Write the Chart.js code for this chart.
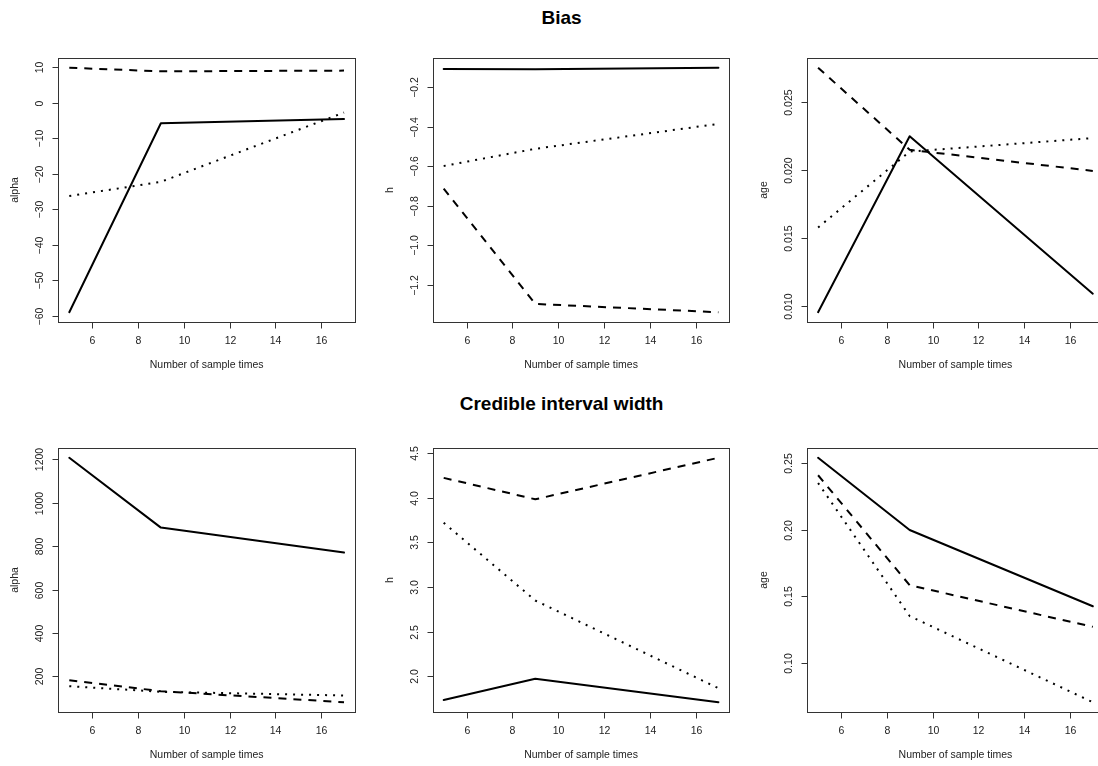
<!DOCTYPE html>
<html><head><meta charset="utf-8">
<script src="https://cdn.jsdelivr.net/npm/chart.js@4/dist/chart.umd.min.js"></script>
<style>
html,body{margin:0;padding:0;background:#fff;overflow:hidden}
#wrap{position:relative;width:1098px;height:766px;overflow:hidden;background:#fff}
#wrap canvas{position:absolute;left:0;top:0}
.title{position:absolute;width:600px;left:261.6px;text-align:center;font:bold 19px "Liberation Sans",Arial,Helvetica,sans-serif;line-height:19px;color:#000;white-space:nowrap}
</style></head><body><div id="wrap">
<div class="title" style="top:8px">Bias</div>
<div class="title" style="top:394px">Credible interval width</div>
</div>
<script>
// ---- data ----
const sampleTimes = [5, 9, 17];
const xTickLabels = ['6', '8', '10', '12', '14', '16'];
const xTitle = 'Number of sample times';
const panelTitles = ['Bias', 'Credible interval width'];

// Bias
const biasAlphaSolid  = [-59.0, -5.8, -4.6];
const biasAlphaDashed = [9.8, 8.8, 9.0];
const biasAlphaDotted = [-26.3, -22.3, -2.8];
const biasHSolid  = [-0.107, -0.108, -0.101];
const biasHDashed = [-0.713, -1.296, -1.338];
const biasHDotted = [-0.598, -0.511, -0.385];
const biasAgeSolid  = [0.00956, 0.0225, 0.01092];
const biasAgeDashed = [0.02753, 0.0215, 0.01995];
const biasAgeDotted = [0.01579, 0.02137, 0.02236];
// Credible interval width
const ciAlphaSolid  = [1207.7, 885.6, 770.6];
const ciAlphaDashed = [181.6, 131, 80];
const ciAlphaDotted = [154, 128, 111];
const ciHSolid  = [1.733, 1.970, 1.708];
const ciHDashed = [4.222, 3.982, 4.447];
const ciHDotted = [3.719, 2.848, 1.865];
const ciAgeSolid  = [0.2538, 0.1997, 0.1425];
const ciAgeDashed = [0.2407, 0.1583, 0.1271];
const ciAgeDotted = [0.2349, 0.1352, 0.0706];

// y tick labels
const yTicksBiasAlpha = ['\u221260', '\u221250', '\u221240', '\u221230', '\u221220', '\u221210', '0', '10'];
const yTicksBiasH = ['\u22121.2', '\u22121.0', '\u22120.8', '\u22120.6', '\u22120.4', '\u22120.2'];
const yTicksBiasAge = ['0.010', '0.015', '0.020', '0.025'];
const yTicksCiAlpha = ['200', '400', '600', '800', '1000', '1200'];
const yTicksCiH = ['2.0', '2.5', '3.0', '3.5', '4.0', '4.5'];
const yTicksCiAge = ['0.10', '0.15', '0.20', '0.25'];

const yTitles = ['alpha', 'h', 'age'];

// ---- layout ----
const CW = 1124, CH = 766;
const colLeft = [58.3, 432.7, 807.1];
const boxW = 296.7;
const rowTop = [58, 448];
const boxH = 264;
const FONT = '"Liberation Sans", Arial, Helvetica, sans-serif';

const panels = [
  {row:0, col:0, s:[biasAlphaSolid, biasAlphaDashed, biasAlphaDotted], yt:yTicksBiasAlpha, title:yTitles[0]},
  {row:0, col:1, s:[biasHSolid, biasHDashed, biasHDotted], yt:yTicksBiasH, title:yTitles[1]},
  {row:0, col:2, s:[biasAgeSolid, biasAgeDashed, biasAgeDotted], yt:yTicksBiasAge, title:yTitles[2]},
  {row:1, col:0, s:[ciAlphaSolid, ciAlphaDashed, ciAlphaDotted], yt:yTicksCiAlpha, title:yTitles[0]},
  {row:1, col:1, s:[ciHSolid, ciHDashed, ciHDotted], yt:yTicksCiH, title:yTitles[1]},
  {row:1, col:2, s:[ciAgeSolid, ciAgeDashed, ciAgeDotted], yt:yTicksCiAge, title:yTitles[2]},
];

const num = s => parseFloat(String(s).replace('\u2212', '-'));

const rAxes = {
  id: 'rAxes',
  afterDraw(chart, args, opts) {
    const {ctx, chartArea: a} = chart;
    const x = chart.scales.x, y = chart.scales.y;
    ctx.save();
    ctx.strokeStyle = '#333';
    ctx.lineWidth = 1;
    const L = Math.round(a.left) + 0.5, T = Math.round(a.top) + 0.5;
    const R = Math.round(a.right) + 0.5, B = Math.round(a.bottom) + 0.5;
    ctx.strokeRect(L, T, R - L, B - T);
    ctx.fillStyle = '#222';
    ctx.font = '10.5px ' + FONT;
    ctx.textAlign = 'center';
    ctx.textBaseline = 'middle';
    // x axis
    xTickLabels.forEach(lbl => {
      const px = Math.round(x.getPixelForValue(num(lbl))) + 0.5;
      ctx.beginPath(); ctx.moveTo(px, B); ctx.lineTo(px, B + 6); ctx.stroke();
      ctx.fillText(lbl, px, a.bottom + 19.5);
    });
    // y axis
    opts.yLabels.forEach(lbl => {
      const py = Math.round(y.getPixelForValue(num(lbl))) + 0.5;
      ctx.beginPath(); ctx.moveTo(L, py); ctx.lineTo(L - 6, py); ctx.stroke();
      ctx.save(); ctx.translate(a.left - 18, py); ctx.rotate(-Math.PI / 2);
      ctx.fillText(lbl, 0, 0); ctx.restore();
    });
    ctx.fillText(xTitle, (a.left + a.right) / 2, a.bottom + 43.5);
    ctx.save(); ctx.translate(a.left - 43, (a.top + a.bottom) / 2); ctx.rotate(-Math.PI / 2);
    ctx.fillText(opts.yTitle, 0, 0); ctx.restore();
    ctx.restore();
  }
};

const styles = [
  {borderDash: [], borderCapStyle: 'round'},
  {borderDash: [8, 7], borderCapStyle: 'butt'},
  {borderDash: [2, 6], borderCapStyle: 'butt'},
];

const wrap = document.getElementById('wrap');
panels.forEach(p => {
  const cv = document.createElement('canvas');
  cv.width = CW; cv.height = CH;
  cv.style.width = CW + 'px'; cv.style.height = CH + 'px';
  wrap.appendChild(cv);
  const all = [].concat(...p.s);
  const lo = Math.min(...all), hi = Math.max(...all);
  const pad = (hi - lo) * 0.04;
  const xlo = Math.min(...sampleTimes), xhi = Math.max(...sampleTimes);
  const xpad = (xhi - xlo) * 0.04;
  const left = colLeft[p.col], top = rowTop[p.row];
  new Chart(cv, {
    type: 'line',
    data: {
      datasets: p.s.map((vals, i) => Object.assign({
        data: sampleTimes.map((t, k) => ({x: t, y: vals[k]})),
        borderColor: '#000',
        borderWidth: 2,
        pointRadius: 0,
        fill: false,
        tension: 0,
        borderJoinStyle: 'round'
      }, styles[i]))
    },
    options: {
      responsive: false,
      animation: false,
      events: [],
      layout: {padding: {left: left, top: top, right: CW - (left + boxW), bottom: CH - (top + boxH)}},
      scales: {
        x: {type: 'linear', display: false, min: xlo - xpad, max: xhi + xpad},
        y: {type: 'linear', display: false, min: lo - pad, max: hi + pad}
      },
      plugins: {
        legend: {display: false},
        tooltip: {enabled: false},
        rAxes: {yLabels: p.yt, yTitle: p.title}
      }
    },
    plugins: [rAxes]
  });
});
</script>
</body></html>
